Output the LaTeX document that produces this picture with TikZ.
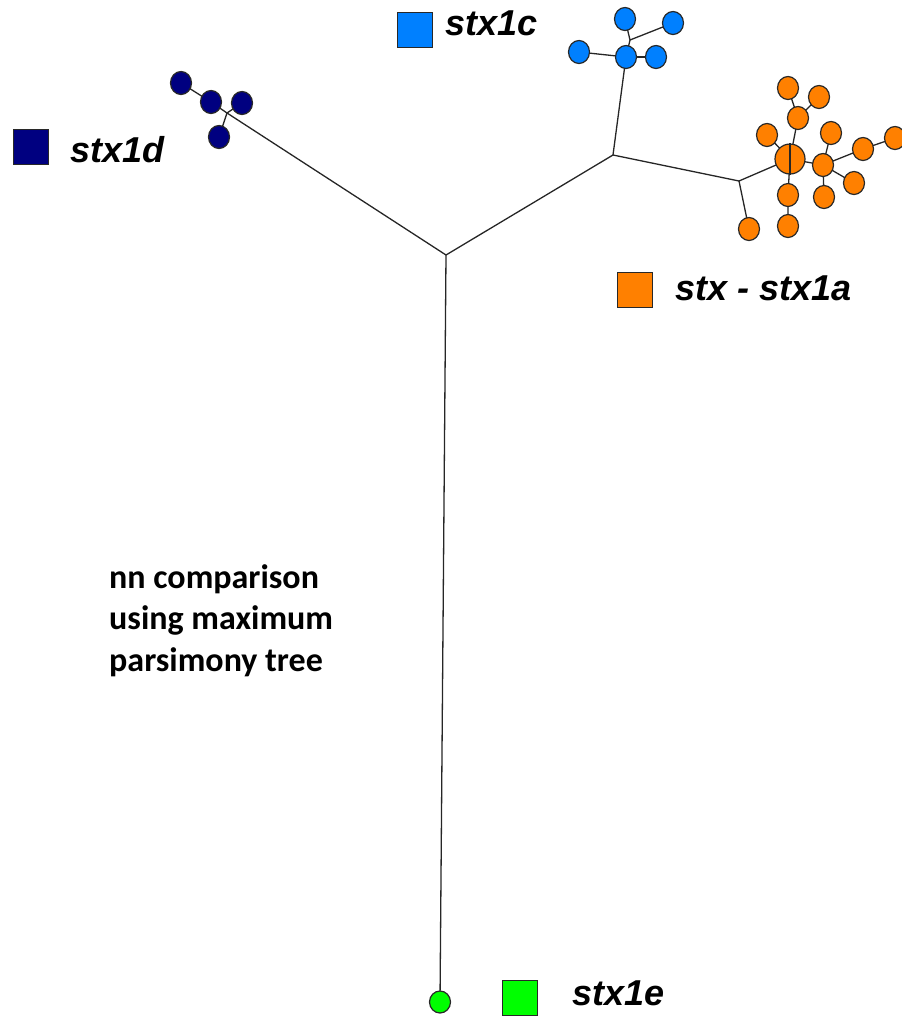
\documentclass[tikz,border=0pt]{standalone}
\usepackage{fontspec}
\setmainfont{Liberation Sans}
\newfontfamily\notefont{Carlito}
\usetikzlibrary{shapes.geometric,backgrounds}

\definecolor{navyD}{RGB}{0,0,128}
\definecolor{blueC}{RGB}{0,128,255}
\definecolor{orangeA}{RGB}{255,128,0}
\definecolor{greenE}{RGB}{0,255,0}
\definecolor{rim}{RGB}{40,40,40}

\tikzset{
  leaf/.style={ellipse, draw=rim, line width=1.2pt, inner sep=0pt,
               minimum width=21pt, minimum height=23pt},
  hub/.style={circle, draw=rim, line width=1.2pt, inner sep=0pt, minimum size=30pt},
  branch/.style={draw=black!85, line width=1.3pt},
  legendbox/.style={draw=rim, line width=1pt, minimum size=35pt, inner sep=0pt},
  legendtext/.style={anchor=base west, inner sep=0pt,
                     font=\fontsize{36}{40}\selectfont\bfseries\itshape},
  note/.style={anchor=base west, inner sep=0pt,
               font=\notefont\fontsize{34}{40}\selectfont\bfseries}
}

\begin{document}
\begin{tikzpicture}[x=1pt,y=-1pt]
\useasboundingbox (0,0) rectangle (902,1018);

% internal branch points
\coordinate (root) at (446,255);
\coordinate (jd)   at (227,113);
\coordinate (jm)   at (613,155);
\coordinate (jc)   at (630,40);
\coordinate (jo)   at (739,181);

% stx1d clade
\node[leaf, fill=navyD] (d1) at (181,83)  {};
\node[leaf, fill=navyD] (d2) at (211,102) {};
\node[leaf, fill=navyD] (d3) at (242,103) {};
\node[leaf, fill=navyD] (d4) at (219,137) {};

% stx1c clade
\node[leaf, fill=blueC] (c1) at (625,19)  {};
\node[leaf, fill=blueC] (c2) at (673,23)  {};
\node[leaf, fill=blueC] (c3) at (579,52)  {};
\node[leaf, fill=blueC] (c4) at (626,57)  {};
\node[leaf, fill=blueC] (c5) at (656,57)  {};

% stx / stx1a clade
\node[leaf, fill=orangeA] (a1)  at (788,88)  {};
\node[leaf, fill=orangeA] (a2)  at (819,97)  {};
\node[leaf, fill=orangeA] (a3)  at (798,118) {};
\node[leaf, fill=orangeA] (a4)  at (767,135) {};
\node[hub,  fill=orangeA] (ab)  at (790,159) {};
\node[leaf, fill=orangeA] (a5)  at (788,195) {};
\node[leaf, fill=orangeA] (a6)  at (788,226) {};
\node[leaf, fill=orangeA] (ah)  at (823,165) {};
\node[leaf, fill=orangeA] (a7)  at (831,133) {};
\node[leaf, fill=orangeA] (a8)  at (863,149) {};
\node[leaf, fill=orangeA] (a9)  at (895,138) {};
\node[leaf, fill=orangeA] (a10) at (854,183) {};
\node[leaf, fill=orangeA] (a11) at (824,197) {};
\node[leaf, fill=orangeA] (a12) at (749,229) {};

% stx1e
\node[leaf, fill=greenE, minimum height=22pt] (e1) at (440,1002) {};

% branches drawn beneath the nodes
\begin{scope}[on background layer]
  \draw[branch] (root) -- (jd);
  \draw[branch] (root) -- (jm);
  \draw[branch] (root) -- (e1.center);
  \draw[branch] (jd) -- (d2.center) -- (d1.center);
  \draw[branch] (jd) -- (d3.center);
  \draw[branch] (jd) -- (d4.center);
  \draw[branch] (jm) -- (c4.center) -- (c3.center);
  \draw[branch] (c4.center) -- (c5.center);
  \draw[branch] (c4.center) -- (jc) -- (c1.center);
  \draw[branch] (jc) -- (c2.center);
  \draw[branch] (jm) -- (jo) -- (ab.center);
  \draw[branch] (jo) -- (a12.center);
  \draw[branch] (a1.center) -- (a3.center) -- (ab.center);
  \draw[branch] (a2.center) -- (a3.center);
  \draw[branch] (a4.center) -- (ab.center);
  \draw[branch] (ab.center) -- (a5.center) -- (a6.center);
  \draw[branch] (ab.center) -- (ah.center) -- (a7.center);
  \draw[branch] (ah.center) -- (a8.center) -- (a9.center);
  \draw[branch] (ah.center) -- (a10.center);
  \draw[branch] (ah.center) -- (a11.center);
\end{scope}
% branch crossing the large node
\draw[branch] (ab.north) -- (ab.south);

% legend
\node[legendbox, fill=navyD]   (kd) at (31,146.5)   {};
\node[legendtext] (ld) at (70,162) {stx1d};
\node[legendbox, fill=blueC]   (kc) at (414.5,29.5) {};
\node[legendtext] (lc) at (445,35) {stx1c};
\node[legendbox, fill=orangeA] (ka) at (634.5,290)  {};
\node[legendtext] (la) at (675,300) {stx - stx1a};
\node[legendbox, fill=greenE]  (ke) at (519.5,998)  {};
\node[legendtext] (le) at (572,1005) {stx1e};

% note
\node[note] (n1) at (109,588) {nn comparison};
\node[note] (n2) at (109,629) {using maximum};
\node[note] (n3) at (109,671) {parsimony tree};
\end{tikzpicture}
\end{document}
